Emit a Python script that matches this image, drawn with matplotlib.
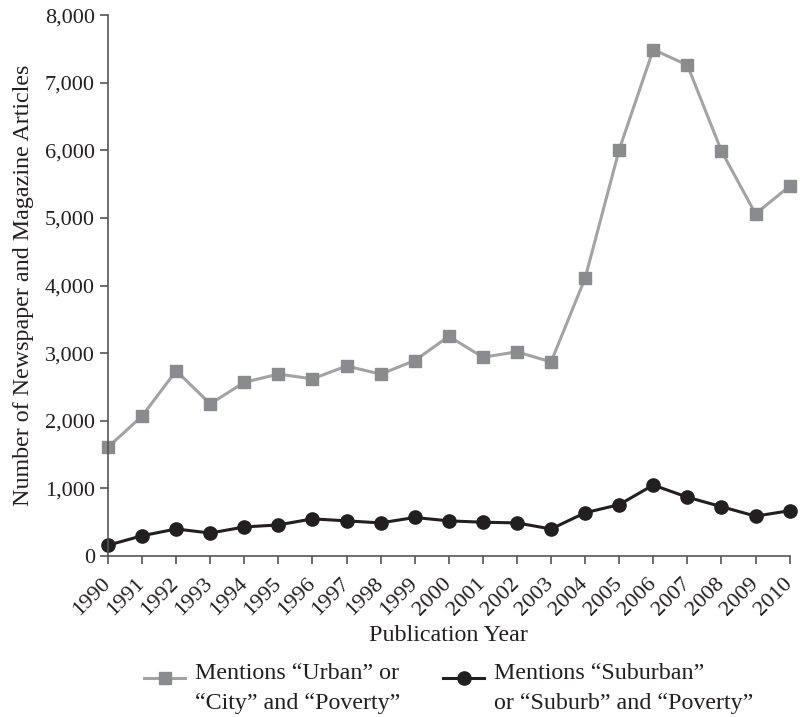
import numpy as np
import matplotlib.pyplot as plt
import matplotlib.transforms as mtransforms
from matplotlib.ticker import FuncFormatter

plt.rcParams['font.family'] = ['Liberation Serif', 'DejaVu Serif']

# data
years = list(range(1990, 2011))
urban = [1610, 2070, 2740, 2250, 2570, 2690, 2620, 2810, 2690, 2890, 3250,
         2940, 3020, 2870, 4110, 6010, 7490, 7260, 5990, 5060, 5470]
suburban = [160, 300, 400, 340, 430, 460, 550, 520, 490, 570, 520,
            500, 490, 400, 640, 760, 1050, 870, 730, 590, 670]
urban_label = 'Mentions \u201cUrban\u201d or\n\u201cCity\u201d and \u201cPoverty\u201d'
suburban_label = 'Mentions \u201cSuburban\u201d\nor \u201cSuburb\u201d and \u201cPoverty\u201d'

txt = '#231f20'
fig = plt.figure(figsize=(8, 7.17), dpi=100)
ax = fig.add_axes([0.135, 0.2245, 0.852, 0.7545])

ax.plot(years, urban, color='#a3a3a5', linewidth=2.2, marker='s', markersize=8,
        markerfacecolor='#8a8b8e', markeredgecolor='#8a8b8e', label=urban_label, clip_on=False)
ax.plot(years, suburban, color=txt, linewidth=2.2, marker='o', markersize=9.5,
        markerfacecolor=txt, markeredgecolor=txt, label=suburban_label, clip_on=False)

ax.set_xlim(1990, 2010)
ax.set_ylim(0, 8000)
ax.set_xticks(years)
ax.set_xticklabels([str(y) for y in years], rotation=45, ha='right', va='center',
                   rotation_mode='anchor')
ax.set_yticks(range(0, 8001, 1000))
ax.yaxis.set_major_formatter(FuncFormatter(lambda v, p: f'{int(v):,}'))

# nudge the rotated year labels a little to the right
shift = mtransforms.ScaledTranslation(4 / 100, 0, fig.dpi_scale_trans)
for lab in ax.get_xticklabels():
    lab.set_transform(lab.get_transform() + shift)

for s in ['top', 'right']:
    ax.spines[s].set_visible(False)
for s in ['left', 'bottom']:
    ax.spines[s].set_color('#555555')
    ax.spines[s].set_linewidth(1.2)
ax.tick_params(axis='both', labelsize=16, colors='#555555', labelcolor=txt,
               length=6, width=1.2, direction='out')
ax.tick_params(axis='x', pad=12, labelsize=16.2)

ax.set_xlabel('Publication Year', fontsize=17.3, color=txt, labelpad=4)
ax.set_ylabel('Number of Newspaper and Magazine Articles', fontsize=17.3, color=txt, labelpad=8)

leg = ax.legend(loc='upper center', bbox_to_anchor=(0.5, -0.15), ncol=2, frameon=False,
                fontsize=17.3, handlelength=1.7, handleheight=3.6, columnspacing=1.8,
                handletextpad=0.4, labelcolor=txt, labelspacing=0.2)
for t in leg.get_texts():
    t.set_linespacing(1.6)

fig.savefig('out.png', dpi=100)
